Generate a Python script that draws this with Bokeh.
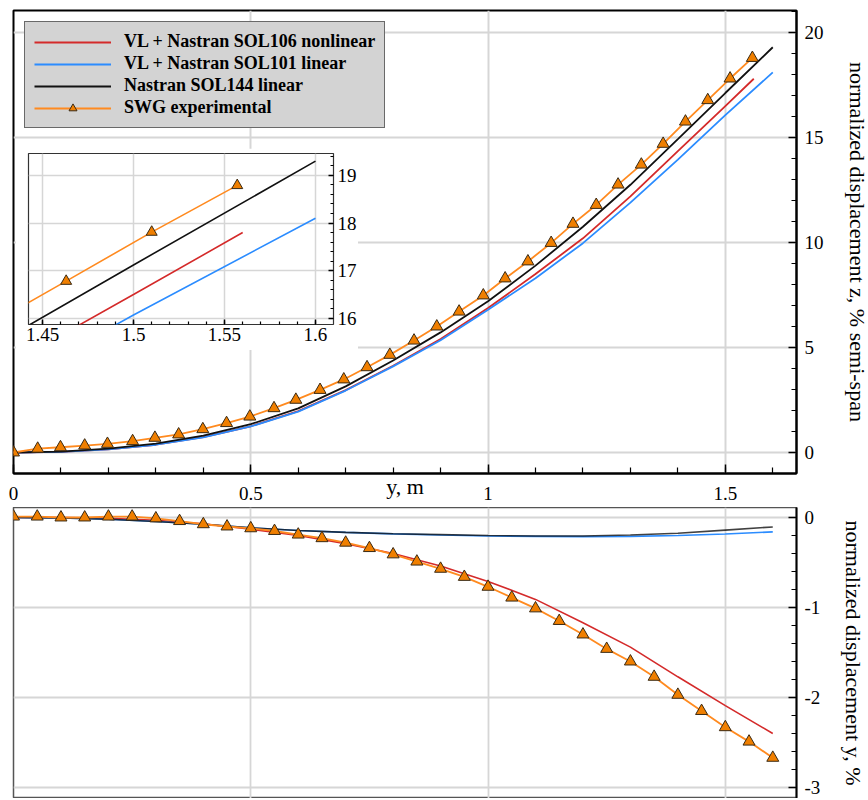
from bokeh.plotting import figure
from bokeh.models import (Range1d, SingleIntervalTicker, CustomJSTickFormatter,
                          Legend, LegendItem)
from bokeh.layouts import column
from bokeh.embed import file_html
from bokeh.resources import INLINE

# ---------------- data ----------------
# model spanwise stations (m)
y_model = [0.0, 0.1, 0.2, 0.3, 0.4, 0.5, 0.6, 0.7, 0.8, 0.9, 1.0, 1.1, 1.2, 1.3, 1.4, 1.5, 1.6]
y_sol106_top = [0.0, 0.1, 0.2, 0.3, 0.4, 0.5, 0.6, 0.7, 0.8, 0.9, 1.0, 1.1, 1.2, 1.3, 1.4, 1.5, 1.56]

# normalized vertical displacement z, % semi-span
z_sol106 = [0.0, 0.03, 0.15, 0.37, 0.73, 1.25, 1.97, 2.97, 4.13, 5.40, 6.88, 8.50, 10.20, 12.20, 14.35, 16.50, 17.80]
z_sol101 = [0.0, 0.03, 0.15, 0.37, 0.72, 1.24, 1.95, 2.95, 4.10, 5.35, 6.80, 8.30, 9.97, 11.90, 13.95, 16.07, 18.10]
z_sol144 = [0.0, 0.04, 0.18, 0.42, 0.80, 1.35, 2.10, 3.15, 4.38, 5.72, 7.20, 8.90, 10.75, 12.75, 14.92, 17.12, 19.30]

# SWG experimental (top panel)
y_exp_top = [0.0, 0.051, 0.099, 0.150, 0.198, 0.251, 0.298, 0.348, 0.399, 0.449, 0.498,
             0.549, 0.595, 0.646, 0.696, 0.745, 0.793, 0.844, 0.892, 0.939, 0.990, 1.036,
             1.084, 1.133, 1.179, 1.228, 1.274, 1.323, 1.369, 1.416, 1.463, 1.510, 1.557]
z_exp = [0.0, 0.18, 0.25, 0.33, 0.41, 0.54, 0.70, 0.86, 1.11, 1.40, 1.71,
         2.11, 2.51, 2.98, 3.48, 4.06, 4.65, 5.33, 6.00, 6.71, 7.48, 8.29,
         9.10, 9.98, 10.89, 11.79, 12.76, 13.71, 14.70, 15.76, 16.78, 17.81, 18.79]

# normalized in-plane displacement y, %
d_sol106 = [0.0, 0.0, -0.01, -0.03, -0.07, -0.13, -0.20, -0.29, -0.40, -0.54, -0.71, -0.91, -1.17, -1.44, -1.77, -2.09, -2.40]
d_sol101 = [0.0, -0.005, -0.02, -0.045, -0.075, -0.115, -0.145, -0.165, -0.182, -0.195, -0.205, -0.21, -0.213, -0.21, -0.20, -0.183, -0.16]
d_sol144 = [0.0, -0.005, -0.02, -0.045, -0.075, -0.115, -0.145, -0.165, -0.18, -0.19, -0.20, -0.205, -0.205, -0.195, -0.175, -0.14, -0.105]

y_exp_bot = [0.0, 0.05, 0.10, 0.15, 0.20, 0.25, 0.30, 0.35, 0.40, 0.45, 0.50,
             0.55, 0.60, 0.65, 0.70, 0.75, 0.80, 0.85, 0.90, 0.95, 1.00, 1.05,
             1.10, 1.15, 1.20, 1.25, 1.30, 1.35, 1.40, 1.45, 1.50, 1.55, 1.60]
d_exp = [0.01, 0.01, 0.0, 0.0, 0.01, 0.01, -0.01, -0.04, -0.075, -0.10, -0.12,
         -0.15, -0.19, -0.23, -0.28, -0.34, -0.41, -0.49, -0.57, -0.66, -0.77, -0.89,
         -1.01, -1.15, -1.30, -1.46, -1.60, -1.77, -1.97, -2.15, -2.33, -2.49, -2.67]

labels = ["VL + Nastran SOL106 nonlinear", "VL + Nastran SOL101 linear",
          "Nastran SOL144 linear", "SWG experimental"]

# ---------------- styles ----------------
SERIF = "Liberation Serif"
RED = "#d42a2a"
BLUE = "#2b8cff"
BLACK = "#111111"
ORANGE = "#ff8a1f"
TRI_FILL = "#f07f00"
TRI_LINE = "#3a2a14"
GRID = "#d6d6d6"

fmt_code = "return Number(tick.toFixed(2)).toString();"


def style_axis(ax, size="19px", tick_in=8, minor_in=5, standoff=6):
    ax.major_label_text_font = SERIF
    ax.major_label_text_font_size = size
    ax.major_label_text_color = "black"
    ax.major_label_standoff = standoff
    ax.axis_line_color = "black"
    ax.axis_line_width = 2
    ax.major_tick_line_color = "black"
    ax.major_tick_line_width = 1.5
    ax.minor_tick_line_color = "black"
    ax.minor_tick_line_width = 1.2
    ax.major_tick_in = tick_in
    ax.major_tick_out = 0
    ax.minor_tick_in = minor_in
    ax.minor_tick_out = 0
    ax.axis_label_text_font = SERIF
    ax.axis_label_text_font_style = "normal"
    ax.axis_label_text_color = "black"
    ax.formatter = CustomJSTickFormatter(code=fmt_code)


# ---------------- top panel ----------------
top = figure(frame_width=783, frame_height=463,
             x_range=Range1d(0, 1.65), y_range=Range1d(-1.0, 21.05),
             y_axis_location="right", output_backend="svg", toolbar_location=None,
             min_border_left=13, min_border_top=10, min_border_bottom=34, min_border_right=10)
top.outline_line_color = "black"
top.outline_line_width = 2
top.background_fill_color = "white"
top.border_fill_color = "white"

top.xaxis.ticker = SingleIntervalTicker(interval=0.5, num_minor_ticks=5)
top.yaxis.ticker = SingleIntervalTicker(interval=5, num_minor_ticks=5)
style_axis(top.xaxis[0], tick_in=9, minor_in=6, standoff=13)
style_axis(top.yaxis[0], tick_in=8, minor_in=5, standoff=8)
top.xaxis.axis_label = "y, m"
top.xaxis.axis_label_text_font_size = "22px"
top.xaxis.axis_label_standoff = -29
top.yaxis.axis_label = "normalized displacement z, % semi-span"
top.yaxis.axis_label_text_font_size = "22px"
top.yaxis.axis_label_standoff = 18
for g in (top.xgrid[0], top.ygrid[0]):
    g.grid_line_color = GRID
    g.grid_line_width = 2

r_red = top.line(y_sol106_top, z_sol106, line_color=RED, line_width=1.8)
r_blue = top.line(y_model, z_sol101, line_color=BLUE, line_width=1.8)
r_black = top.line(y_model, z_sol144, line_color=BLACK, line_width=1.8)
r_or = top.line(y_exp_top, z_exp, line_color=ORANGE, line_width=1.8)
r_tri = top.scatter(y_exp_top, z_exp, marker="triangle", size=12,
                    fill_color=TRI_FILL, line_color=TRI_LINE, line_width=1)

legend = Legend(items=[LegendItem(label=labels[0], renderers=[r_red]),
                       LegendItem(label=labels[1], renderers=[r_blue]),
                       LegendItem(label=labels[2], renderers=[r_black]),
                       LegendItem(label=labels[3], renderers=[r_or, r_tri])],
                location="top_left")
legend.background_fill_color = "#d3d3d3"
legend.background_fill_alpha = 1
legend.border_line_color = "black"
legend.border_line_width = 1.2
legend.label_text_font = SERIF
legend.label_text_font_style = "bold"
legend.label_text_font_size = "18px"
legend.label_text_color = "black"
legend.glyph_width = 77
legend.glyph_height = 20
legend.label_height = 20
legend.label_standoff = 13
legend.spacing = 1
legend.padding = 9
legend.margin = 11
top.add_layout(legend)

# ---------------- inset (zoom of the tip) ----------------
inset = figure(frame_width=305, frame_height=171,
               x_range=Range1d(1.4423, 1.6099), y_range=Range1d(15.87, 19.46),
               y_axis_location="right", output_backend="svg", toolbar_location=None,
               min_border_left=3, min_border_top=5, min_border_bottom=26, min_border_right=35)
inset.outline_line_color = "#333333"
inset.outline_line_width = 1.2
inset.xaxis.ticker = SingleIntervalTicker(interval=0.05, num_minor_ticks=5)
inset.yaxis.ticker = SingleIntervalTicker(interval=1, num_minor_ticks=5)
style_axis(inset.xaxis[0], tick_in=5, minor_in=3, standoff=3)
style_axis(inset.yaxis[0], tick_in=5, minor_in=3, standoff=4)
inset.xaxis.axis_line_color = None
inset.yaxis.axis_line_color = None
for g in (inset.xgrid[0], inset.ygrid[0]):
    g.grid_line_color = GRID
    g.grid_line_width = 1.5

inset.line(y_sol106_top, z_sol106, line_color=RED, line_width=1.6)
inset.line(y_model, z_sol101, line_color=BLUE, line_width=1.6)
inset.line(y_model, z_sol144, line_color=BLACK, line_width=1.6)
inset.line(y_exp_top, z_exp, line_color=ORANGE, line_width=1.6)
inset.scatter(y_exp_top, z_exp, marker="triangle", size=11,
              fill_color=TRI_FILL, line_color=TRI_LINE, line_width=1)

# top panel is 507 px tall; inset occupies y 148..350 and is pulled up over it
inset.styles = {"margin-top": "-359px", "margin-left": "15px", "margin-bottom": "157px",
                "position": "relative", "z-index": "10"}

# ---------------- bottom panel ----------------
bot = figure(frame_width=783, frame_height=291,
             x_range=Range1d(0, 1.65), y_range=Range1d(-3.122, 0.111),
             y_axis_location="right", output_backend="svg", toolbar_location=None,
             min_border_left=13, min_border_top=0, min_border_bottom=0, min_border_right=10)
bot.outline_line_color = "#555555"
bot.outline_line_width = 1.5
bot.xaxis.visible = False
bot.xgrid.ticker = SingleIntervalTicker(interval=0.5)
bot.yaxis.ticker = SingleIntervalTicker(interval=1, num_minor_ticks=5)
style_axis(bot.yaxis[0], tick_in=8, minor_in=5, standoff=8)
bot.yaxis.axis_label = "normalized displacement y, %"
bot.yaxis.axis_label_text_font_size = "22px"
bot.yaxis.axis_label_standoff = 18
for g in (bot.xgrid[0], bot.ygrid[0]):
    g.grid_line_color = GRID
    g.grid_line_width = 1.8

bot.line(y_model, d_sol106, line_color=RED, line_width=1.6)
bot.line(y_model, d_sol101, line_color=BLUE, line_width=1.6)
bot.line(y_model, d_sol144, line_color=BLACK, line_width=1.6, line_alpha=0.8)
bot.line(y_exp_bot, d_exp, line_color=ORANGE, line_width=1.8)
bot.scatter(y_exp_bot, d_exp, marker="triangle", size=12,
            fill_color=TRI_FILL, line_color=TRI_LINE, line_width=1)

layout = column(top, inset, bot, spacing=0)

open("out.html", "w").write(file_html(layout, INLINE))
